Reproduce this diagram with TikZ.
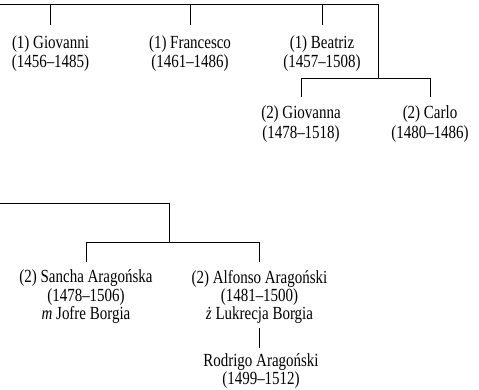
\documentclass[tikz,border=0pt]{standalone}
\usepackage{fontspec}
\setmainfont{Liberation Serif}[FakeStretch=0.81]
\begin{document}
\begin{tikzpicture}[x=1pt,y=-1pt,
  line/.style={draw=black,line width=0.9pt},
  person/.style={anchor=north,align=center,inner sep=0pt,outer ysep=#1,
    font=\fontsize{18.5}{19.5}\selectfont},
  person/.default=10.5pt]
\useasboundingbox (0,0) rectangle (479,390);
% top generation
\coordinate (t0) at (0,4);
\coordinate (t1) at (378,4);
\coordinate (bm) at (378,78);
\node[person] (giov) at (50.5,25) {(1) Giovanni\\(1456–1485)};
\node[person] (fran) at (190,25) {(1) Francesco\\(1461–1486)};
\node[person] (beat) at (322,25) {(1) Beatriz\\(1457–1508)};
\node[person=9pt] (gna) at (301,97) {(2) Giovanna\\(1478–1518)};
\node[person=9pt] (carl) at (430,97) {(2) Carlo\\(1480–1486)};
\draw[line] (t0) -- (t1) -- (bm);
\draw[line] (giov.north |- t0) -- (giov.north);
\draw[line] (fran.north |- t0) -- (fran.north);
\draw[line] (beat.north |- t0) -- (beat.north);
\draw[line] (gna.north) -- (gna.north |- bm) -- (carl.north |- bm) -- (carl.north);
% lower part
\coordinate (s0) at (0,203);
\coordinate (s1) at (169,203);
\coordinate (s2) at (169,242);
\node[person=8pt] (sanc) at (86,262) {(2) Sancha Aragońska\\[-1.2pt](1478–1506)\\[-1.2pt]\textit{m} Jofre Borgia};
\node[person=8pt] (alf) at (259.5,262) {(2) Alfonso Aragoński\\[-1.2pt](1481–1500)\\[-1.2pt]\textit{ż} Lukrecja Borgia};
\node[person=6pt] (rod) at (261,348) {Rodrigo Aragoński\\[-2pt](1499–1512)};
\draw[line] (s0) -- (s1) -- (s2);
\draw[line] (sanc.north) -- (sanc.north |- s2) -- (alf.north |- s2) -- (alf.north);
\draw[line,shorten <=-4pt] (alf.south) -- (alf.south |- rod.north);
\end{tikzpicture}
\end{document}
